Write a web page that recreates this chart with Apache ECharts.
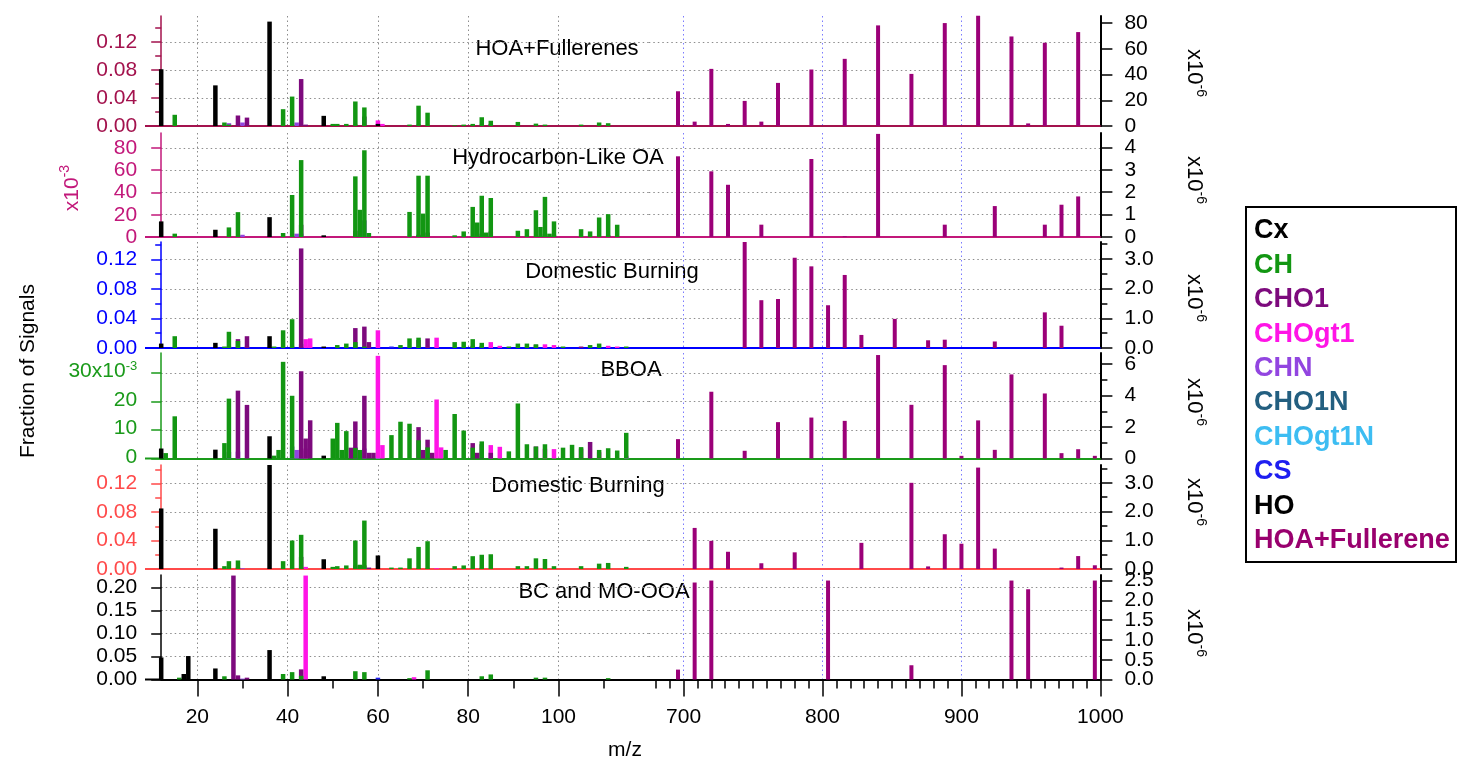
<!DOCTYPE html>
<html>
<head>
<meta charset="utf-8">
<script src="https://cdn.jsdelivr.net/npm/echarts@6/dist/echarts.min.js"></script>
<style>
  html, body { margin: 0; padding: 0; background: #fff; }
  #chart { width: 1458px; height: 760px; }
</style>
</head>
<body>
<div id="chart"></div>
<script>
(function() {
  // ---- data: low-mass part is [m/z, fraction] per ion family, high-mass part is per fullerene mass ----
  var fullMz = [696, 708, 720, 732, 744, 756, 768, 780, 792, 804, 816, 828, 840, 852, 864, 876, 888, 900, 912, 924, 936, 948, 960, 972, 984, 996];

  // HOA+Fullerenes
  var p1Cx = [[12, 0.081], [24, 0.058], [36, 0.149], [48, 0.0145], [60, 0.003]];
  var p1CH = [[15, 0.016], [26, 0.005], [27, 0.002], [39, 0.024], [41, 0.042], [50, 0.003], [51, 0.003], [53, 0.003], [55, 0.035], [57, 0.0265], [67, 0.002], [69, 0.029], [71, 0.019], [77, 0.001], [79, 0.002], [81, 0.003], [83, 0.0125], [85, 0.0075], [91, 0.0058], [95, 0.0034], [97, 0.002], [105, 0.002], [109, 0.005], [111, 0.004]];
  var p1CHO1 = [[29, 0.015], [31, 0.012], [43, 0.067], [44, 0.002], [55, 0.002], [57, 0.0135], [69, 0.002], [83, 0.002], [85, 0.003]];
  var p1CHOgt1 = [[60, 0.008], [61, 0.003]];
  var p1CHN = [[27, 0.004], [30, 0.005], [42, 0.005]];
  var p1Full = [27, 3.4, 44.4, 1.6, 19.5, 3.4, 33.5, 0, 43.9, 0, 52.2, 0, 78.2, 0, 40.5, 0, 80, 0, 85.7, 0, 69.6, 2, 64.7, 0, 73, 0];

  // Hydrocarbon-Like OA (x10^-3)
  var p2Cx = [[12, 14], [24, 6.5], [36, 17.8], [48, 1.5]];
  var p2CH = [[15, 3], [27, 8.6], [29, 22.3], [39, 3.6], [41, 37.7], [43, 69], [55, 54.4], [56, 24.4], [57, 77.8], [58, 3.6], [67, 22.5], [69, 55], [70, 21], [71, 55], [77, 1.5], [79, 5], [81, 27], [82, 13], [83, 37], [84, 4], [85, 35], [91, 5.6], [93, 7], [95, 24], [96, 9], [97, 36], [98, 3], [99, 14], [105, 7], [107, 5], [109, 17.5], [111, 20.5], [113, 11]];
  var p2CHO1 = [[43, 11], [55, 5.6], [69, 2], [71, 4], [83, 3], [85, 5], [97, 2.6], [99, 1.5], [111, 1.5]];
  var p2CHOgt1 = [[67, 1]];
  var p2CHN = [[30, 2], [42, 3], [43, 3], [57, 14.9]];
  var p2Full = [3.6, 0, 2.93, 2.33, 0, 0.55, 0, 0, 3.48, 0, 0.03, 0, 4.6, 0, 0, 0, 0.55, 0, 0, 1.38, 0, 0, 0.55, 1.44, 1.81, 0];

  // Domestic Burning (blue)
  var p3Cx = [[12, 0.006], [24, 0.007], [36, 0.016], [48, 0.002]];
  var p3CH = [[15, 0.016], [26, 0.002], [27, 0.022], [29, 0.0096], [37, 0.002], [39, 0.024], [41, 0.039], [51, 0.004], [53, 0.006], [55, 0.008], [57, 0.002], [65, 0.004], [67, 0.013], [69, 0.014], [77, 0.008], [79, 0.0085], [81, 0.012], [83, 0.007], [89, 0.002], [91, 0.006], [93, 0.006], [95, 0.005], [101, 0.002], [107, 0.004], [109, 0.006], [115, 0.002]];
  var p3CHO1 = [[29, 0.012], [31, 0.016], [41, 0.002], [43, 0.135], [55, 0.027], [57, 0.029], [58, 0.008], [69, 0.011], [71, 0.013], [81, 0.003], [83, 0.003], [95, 0.0044], [105, 0.002]];
  var p3CHOgt1 = [[44, 0.012], [45, 0.013], [60, 0.024], [73, 0.014], [85, 0.008], [87, 0.003], [97, 0.005], [99, 0.004], [111, 0.003], [113, 0.002]];
  var p3CHN = [[27, 0.002], [31, 0.002], [43, 0.001]];
  var p3CHO1N = [[43, 0.005], [99, 0.001]];
  var p3CS = [[63, 0.002]];
  var p3Full = [0, 0, 0, 0, 3.57, 1.61, 1.65, 3.04, 2.75, 1.44, 2.46, 0.44, 0, 0.98, 0, 0.26, 0.28, 0, 0, 0.22, 0, 0, 1.2, 0.75, 0, 0];

  // BBOA (x10^-3)
  var p4Cx = [[12, 3.5], [24, 3.1], [36, 7.8], [48, 1]];
  var p4CH = [[13, 1.9], [15, 14.8], [26, 5.4], [27, 21], [37, 1], [38, 3], [39, 33.9], [41, 22], [50, 7], [51, 12.5], [52, 3], [53, 9.6], [55, 3.7], [56, 3], [63, 8.2], [65, 12.9], [67, 12.2], [69, 6.4], [71, 3.9], [75, 3], [77, 15.6], [79, 9.8], [81, 3.8], [83, 6], [89, 2.5], [91, 19.3], [93, 5], [95, 4.2], [97, 5], [101, 3.8], [103, 4.8], [105, 4], [109, 3], [111, 3.6], [113, 2.8], [115, 9]];
  var p4CHO1 = [[29, 23.8], [31, 18.8], [43, 30.6], [44, 7], [45, 13.4], [54, 3.8], [55, 13], [57, 22], [58, 2], [59, 2], [69, 11], [70, 3], [71, 6.6], [72, 2], [81, 5.4], [82, 2], [83, 5], [85, 2], [95, 4.2], [105, 3.5], [107, 5.8]];
  var p4CHOgt1 = [[44, 3.5], [60, 36], [61, 4.7], [73, 20.7], [74, 3.9], [85, 4.7], [87, 4.1], [97, 3.4], [99, 3.3], [109, 2.2], [115, 1]];
  var p4CHN = [[27, 2.3], [29, 2.4], [41, 4.2], [42, 3], [43, 1.4], [55, 4], [57, 3.5]];
  var p4CHO1N = [[43, 2.8]];
  var p4CHOgt1N = [[60, 1], [115, 0.6]];
  var p4Full = [1.23, 0, 4.24, 0, 0.49, 0, 2.31, 0, 2.6, 0, 2.39, 0, 6.57, 0, 3.41, 0, 5.93, 0.17, 2.42, 0.55, 5.34, 0, 4.13, 0.34, 0.59, 0.17];

  // Domestic Burning (red)
  var p5Cx = [[12, 0.085], [24, 0.0565], [36, 0.146], [48, 0.0137], [60, 0.019]];
  var p5CH = [[26, 0.004], [27, 0.011], [29, 0.012], [39, 0.011], [41, 0.040], [43, 0.048], [50, 0.003], [51, 0.004], [53, 0.005], [55, 0.040], [56, 0.006], [57, 0.068], [63, 0.002], [65, 0.002], [67, 0.015], [69, 0.031], [71, 0.039], [77, 0.004], [79, 0.005], [81, 0.018], [83, 0.020], [85, 0.0207], [91, 0.004], [93, 0.004], [95, 0.015], [97, 0.014], [99, 0.004], [105, 0.004], [109, 0.0075], [111, 0.0085], [115, 0.003]];
  var p5CHO1 = [[29, 0.002], [43, 0.017], [55, 0.005], [57, 0.005], [58, 0.002], [69, 0.001], [71, 0.001], [83, 0.0016]];
  var p5CHOgt1 = [[44, 0.003], [73, 0.001]];
  var p5CHN = [[30, 0.001]];
  var p5Full = [0, 1.43, 0.98, 0.6, 0, 0.2, 0, 0.58, 0, 0, 0, 0.91, 0, 0, 3.0, 0.09, 1.21, 0.88, 3.53, 0.71, 0, 0, 0, 0.05, 0.45, 0.13];

  // BC and MO-OOA
  var p6Cx = [[12, 0.048], [24, 0.024], [36, 0.064], [48, 0.007]];
  var p6HO = [[17, 0.012], [18, 0.051]];
  var p6CH = [[16, 0.004], [26, 0.007], [39, 0.012], [41, 0.016], [43, 0.008], [55, 0.018], [57, 0.016], [67, 0.003], [71, 0.020], [83, 0.007], [85, 0.011], [95, 0.004], [97, 0.004], [111, 0.003]];
  var p6CHO1 = [[28, 0.226], [29, 0.009], [31, 0.004], [43, 0.022]];
  var p6CHOgt1 = [[44, 0.226], [68, 0.005]];
  var p6CHN = [[30, 0.002]];
  var p6CS = [[60, 0.004]];
  var p6Full = [0.25, 2.45, 2.5, 0, 0, 0, 0, 0, 0, 2.5, 0, 0, 0, 0, 0.36, 0, 0, 0, 0, 0, 2.5, 2.28, 0, 0, 0, 2.5];

  // tick labels
  var lowTicks = [20, 40, 60, 80, 100];
  var lowMinor = [30, 50, 70, 90, 110];
  var highTicks = [700, 800, 900, 1000];
  var highMinor = [];
  for (var t = 680; t < 1000; t += 10) { if (t % 100) highMinor.push(t); }
  var lTicks1 = [0, 0.04, 0.08, 0.12], rTicks1 = [0, 20, 40, 60, 80];
  var lTicks2 = [0, 20, 40, 60, 80], rTicks2 = [0, 1, 2, 3, 4];
  var lTicks3 = [0, 0.04, 0.08, 0.12], rTicks3 = [0, 1, 2, 3];
  var lTicks4 = [0, 10, 20, 30], rTicks4 = [0, 2, 4, 6];
  var lTicks5 = [0, 0.04, 0.08, 0.12], rTicks5 = [0, 1, 2, 3];
  var lTicks6 = [0, 0.05, 0.10, 0.15, 0.20], rTicks6 = [0, 0.5, 1.0, 1.5, 2.0, 2.5];
  var legendNames = ['Cx', 'CH', 'CHO1', 'CHOgt1', 'CHN', 'CHO1N', 'CHOgt1N', 'CS', 'HO', 'HOA+Fullerene'];

  var famColor = {
    Cx: '#000000', CH: '#129612', CHO1: '#7d0a7d', CHOgt1: '#ff14e6', CHN: '#9245e0',
    CHO1N: '#235f80', CHOgt1N: '#3dbdf2', CS: '#1e1ef0', HO: '#000000', 'HOA+Fullerene': '#99006e'
  };
  var fullColor = '#9b0078';
  var stackOrder = ['CHOgt1N', 'CHO1N', 'CHN', 'CS', 'CHOgt1', 'CHO1', 'CH', 'Cx', 'HO'];
  var FONT = '"Liberation Sans", Arial, sans-serif';

  var f0 = function(v) { return String(Math.round(v)); };
  var f1 = function(v) { return v.toFixed(1); };
  var f2 = function(v) { return v.toFixed(2); };
  var f4 = function(v) { return v === 30 ? '{b|30x10}{s|-3}' : '{b|' + v + '}'; };

  var panels = [
    { title: 'HOA+Fullerenes', tx: 557, ty: 49, top: 16, base: 126, color: '#a3124d',
      lmax: 0.157, li: 0.04, lt: lTicks1, lf: f2, lminor: true, rmax: 85.5, ri: 20, rt: rTicks1, rf: f0, rminor: false, ry: 73,
      fam: { Cx: p1Cx, CH: p1CH, CHO1: p1CHO1, CHOgt1: p1CHOgt1, CHN: p1CHN }, full: p1Full },
    { title: 'Hydrocarbon-Like OA', tx: 558, ty: 158, top: 133, base: 237, color: '#c2187a',
      lmax: 93.3, li: 20, lt: lTicks2, lf: f0, lminor: false, rmax: 4.64, ri: 1, rt: rTicks2, rf: f0, rminor: false, ry: 180,
      fam: { Cx: p2Cx, CH: p2CH, CHO1: p2CHO1, CHOgt1: p2CHOgt1, CHN: p2CHN }, full: p2Full },
    { title: 'Domestic Burning', tx: 612, ty: 272, top: 242, base: 348, color: '#0000ff',
      lmax: 0.1437, li: 0.04, lt: lTicks3, lf: f2, lminor: true, rmax: 3.57, ri: 1, rt: rTicks3, rf: f1, rminor: true, ry: 298,
      fam: { Cx: p3Cx, CH: p3CH, CHO1: p3CHO1, CHOgt1: p3CHOgt1, CHN: p3CHN, CHO1N: p3CHO1N, CS: p3CS }, full: p3Full },
    { title: 'BBOA', tx: 631, ty: 370, top: 353, base: 458.5, color: '#1a9a1a',
      lmax: 37.0, li: 10, lt: lTicks4, lf: f4, lminor: false, rmax: 6.7, ri: 2, rt: rTicks4, rf: f0, rminor: true, ry: 402,
      fam: { Cx: p4Cx, CH: p4CH, CHO1: p4CHO1, CHOgt1: p4CHOgt1, CHN: p4CHN, CHO1N: p4CHO1N, CHOgt1N: p4CHOgt1N }, full: p4Full },
    { title: 'Domestic Burning', tx: 578, ty: 486, top: 465, base: 569, color: '#ff4a4a',
      lmax: 0.146, li: 0.04, lt: lTicks5, lf: f2, lminor: true, rmax: 3.62, ri: 1, rt: rTicks5, rf: f1, rminor: true, ry: 502,
      fam: { Cx: p5Cx, CH: p5CH, CHO1: p5CHO1, CHOgt1: p5CHOgt1, CHN: p5CHN }, full: p5Full },
    { title: 'BC and MO-OOA', tx: 604, ty: 592, top: 575, base: 679.5, color: '#000000',
      lmax: 0.2272, li: 0.05, lt: lTicks6, lf: f2, lminor: false, rmax: 2.64, ri: 0.5, rt: rTicks6, rf: f1, rminor: false, ry: 633,
      fam: { Cx: p6Cx, HO: p6HO, CH: p6CH, CHO1: p6CHO1, CHOgt1: p6CHOgt1, CHN: p6CHN, CS: p6CS }, full: p6Full }
  ];

  // same m/z list for every family of a panel, so the stack lines up by index
  function alignFamilies(fams) {
    var seen = {};
    Object.keys(fams).forEach(function(k) { fams[k].forEach(function(d) { seen[d[0]] = true; }); });
    var mzs = Object.keys(seen).map(Number).sort(function(a, b) { return a - b; });
    var out = {};
    Object.keys(fams).forEach(function(k) {
      var m = {};
      fams[k].forEach(function(d) { m[d[0]] = d[1]; });
      out[k] = mzs.map(function(x) { return [x, m[x] || 0]; });
    });
    return out;
  }

  var plain = function(v) { return String(v); };
  var gridDot = { color: '#8c8c8c', type: [1.5, 3], width: 1 };
  var blueDot = { color: '#7a7aff', type: [1.5, 3], width: 1 };
  var grids = [], xAxes = [], yAxes = [], series = [], graphics = [];

  panels.forEach(function(p, i) {
    var h = p.base - p.top;
    var last = i === panels.length - 1;
    var g = grids.length;
    grids.push({ left: 161.2, top: p.top, width: 487.6, height: h });
    grids.push({ left: 648.8, top: p.top, width: 451.6, height: h });

    var xl = xAxes.length;
    xAxes.push({
      type: 'value', gridIndex: g, min: 12, max: 120, position: 'bottom',
      axisLine: { show: true, onZero: false, lineStyle: { color: p.color, width: 2 } },
      axisTick: { show: last, customValues: lowTicks, length: 17, lineStyle: { color: '#000', width: 1.5 } },
      axisLabel: { show: last, customValues: lowTicks, formatter: plain, hideOverlap: false, color: '#000', fontSize: 21, margin: 27, fontFamily: FONT },
      splitLine: { show: true, lineStyle: gridDot }
    });
    xAxes.push({
      type: 'value', gridIndex: g + 1, min: 675, max: 1000, position: 'bottom',
      axisLine: { show: true, onZero: false, lineStyle: { color: p.color, width: 2 } },
      axisTick: { show: last, customValues: highTicks, length: 17, lineStyle: { color: '#000', width: 1.5 } },
      axisLabel: { show: last, customValues: highTicks, formatter: plain, showMaxLabel: true, hideOverlap: false, color: '#000', fontSize: 21, margin: 27, fontFamily: FONT },
      splitLine: { show: true, lineStyle: blueDot }
    });
    if (last) {
      xAxes.push({
        type: 'value', gridIndex: g, min: 12, max: 120, position: 'bottom',
        axisLine: { show: false }, axisLabel: { show: false }, splitLine: { show: false },
        axisTick: { show: true, customValues: lowMinor, length: 9, lineStyle: { color: '#000', width: 1.5 } }
      });
      xAxes.push({
        type: 'value', gridIndex: g + 1, min: 675, max: 1000, position: 'bottom',
        axisLine: { show: false }, axisLabel: { show: false }, splitLine: { show: false },
        axisTick: { show: true, customValues: highMinor, length: 9, lineStyle: { color: '#000', width: 1.5 } }
      });
    }

    var yl = yAxes.length;
    yAxes.push({
      type: 'value', gridIndex: g, min: 0, max: p.lmax, interval: p.li, position: 'left',
      axisLine: { show: true, lineStyle: { color: p.color, width: 1.5 } },
      axisTick: { show: true, customValues: p.lt, length: 10, lineStyle: { color: p.color, width: 1.5 } },
      minorTick: { show: p.lminor, splitNumber: 2, length: 6, lineStyle: { color: p.color, width: 1.5 } },
      axisLabel: {
        customValues: p.lt, formatter: p.lf, showMinLabel: true, showMaxLabel: true, hideOverlap: false,
        color: p.color, fontSize: 21, lineHeight: 18, margin: 24, fontFamily: FONT,
        rich: {
          b: { fontSize: 21, color: p.color, fontFamily: FONT, lineHeight: 18, verticalAlign: 'bottom' },
          s: { fontSize: 13, color: p.color, fontFamily: FONT, lineHeight: 12, verticalAlign: 'bottom', padding: [0, 0, 9, 0] }
        }
      },
      splitLine: { show: true, lineStyle: gridDot }
    });
    yAxes.push({
      type: 'value', gridIndex: g + 1, min: 0, max: p.lmax, interval: p.li, position: 'left',
      axisLine: { show: false }, axisTick: { show: false, customValues: p.lt }, axisLabel: { show: false, customValues: p.lt },
      splitLine: { show: true, lineStyle: gridDot }
    });
    // densely labelled right axes are split over two overlapping axes, so no label gets dropped
    var rEven = p.rt.filter(function(v, k) { return k % 2 === 0; });
    var rOdd = p.rt.filter(function(v, k) { return k % 2 === 1; });
    yAxes.push({
      type: 'value', gridIndex: g + 1, min: 0, max: p.rmax, interval: p.ri, position: 'right',
      axisLine: { show: true, lineStyle: { color: '#000', width: 2 } },
      axisTick: { show: true, customValues: p.rt, length: 12, lineStyle: { color: '#000', width: 1.5 } },
      minorTick: { show: p.rminor, splitNumber: 2, length: 7, lineStyle: { color: '#000', width: 1.5 } },
      axisLabel: {
        customValues: rEven, formatter: p.rf, showMinLabel: true, showMaxLabel: true, hideOverlap: false,
        color: '#000', fontSize: 21, lineHeight: 18, margin: 24, fontFamily: FONT
      },
      splitLine: { show: false }
    });
    yAxes.push({
      type: 'value', gridIndex: g + 1, min: 0, max: p.rmax, interval: p.ri, position: 'right',
      axisLine: { show: false }, axisTick: { show: false, customValues: rOdd },
      axisLabel: {
        customValues: rOdd, formatter: p.rf, showMinLabel: true, showMaxLabel: true, hideOverlap: false,
        color: '#000', fontSize: 21, lineHeight: 18, margin: 24, fontFamily: FONT
      },
      splitLine: { show: false }
    });

    var aligned = alignFamilies(p.fam);
    stackOrder.forEach(function(k) {
      if (!aligned[k]) return;
      series.push({
        type: 'bar', name: k, xAxisIndex: xl, yAxisIndex: yl, stack: 'low' + i,
        data: aligned[k], barWidth: 4.5, clip: false, silent: true,
        itemStyle: { color: famColor[k] }
      });
    });
    series.push({
      type: 'bar', name: 'HOA+Fullerene', xAxisIndex: xl + 1, yAxisIndex: yl + 2,
      data: fullMz.map(function(m, k) { return [m, p.full[k]]; }),
      barWidth: 4, clip: false, silent: true, itemStyle: { color: fullColor }
    });

    // the baseline runs a little to the left of the y axis
    graphics.push({
      type: 'line', shape: { x1: 145, y1: p.base, x2: 161.2, y2: p.base },
      style: { stroke: p.color, lineWidth: 2 }
    });
    graphics.push({
      type: 'text', x: p.tx, y: p.ty,
      style: { text: p.title, font: '22px ' + FONT, fill: '#000', align: 'center', verticalAlign: 'middle' }
    });
    graphics.push({
      type: 'text', x: 1195, y: p.ry, rotation: -Math.PI / 2,
      style: {
        text: '{b|x10}{s|-6}', align: 'center', verticalAlign: 'middle', fill: '#000',
        rich: {
          b: { font: '22px ' + FONT, fill: '#000', lineHeight: 24, verticalAlign: 'bottom' },
          s: { font: '14px ' + FONT, fill: '#000', lineHeight: 15, verticalAlign: 'bottom', padding: [0, 0, 11, 0] }
        }
      }
    });
  });

  // left unit label of the second panel, axis titles
  graphics.push({
    type: 'text', x: 71, y: 188, rotation: Math.PI / 2,
    style: {
      text: '{b|x10}{s|-3}', align: 'center', verticalAlign: 'middle', fill: panels[1].color,
      rich: {
        b: { font: '21px ' + FONT, fill: panels[1].color, lineHeight: 24, verticalAlign: 'bottom' },
        s: { font: '14px ' + FONT, fill: panels[1].color, lineHeight: 15, verticalAlign: 'bottom', padding: [0, 0, 11, 0] }
      }
    }
  });
  graphics.push({
    type: 'text', x: 28, y: 371, rotation: Math.PI / 2,
    style: { text: 'Fraction of Signals', font: '21px ' + FONT, fill: '#000', align: 'center', verticalAlign: 'middle' }
  });
  graphics.push({
    type: 'text', x: 625, y: 750,
    style: { text: 'm/z', font: '21px ' + FONT, fill: '#000', align: 'center', verticalAlign: 'middle' }
  });

  // legend box
  graphics.push({
    type: 'rect', shape: { x: 1246, y: 207, width: 210, height: 355 },
    style: { fill: '#fff', stroke: '#000', lineWidth: 2 }
  });
  legendNames.forEach(function(n, k) {
    graphics.push({
      type: 'text', x: 1254, y: 231 + k * 34.4,
      style: { text: n, font: 'bold 27px ' + FONT, fill: famColor[n], align: 'left', verticalAlign: 'middle' }
    });
  });

  var chart = echarts.init(document.getElementById('chart'), null, { renderer: 'canvas' });
  chart.setOption({
    animation: false,
    backgroundColor: '#fff',
    textStyle: { fontFamily: FONT },
    grid: grids,
    xAxis: xAxes,
    yAxis: yAxes,
    series: series,
    graphic: { elements: graphics }
  });
  window.addEventListener('resize', function() { chart.resize(); });
})();
</script>
</body>
</html>
